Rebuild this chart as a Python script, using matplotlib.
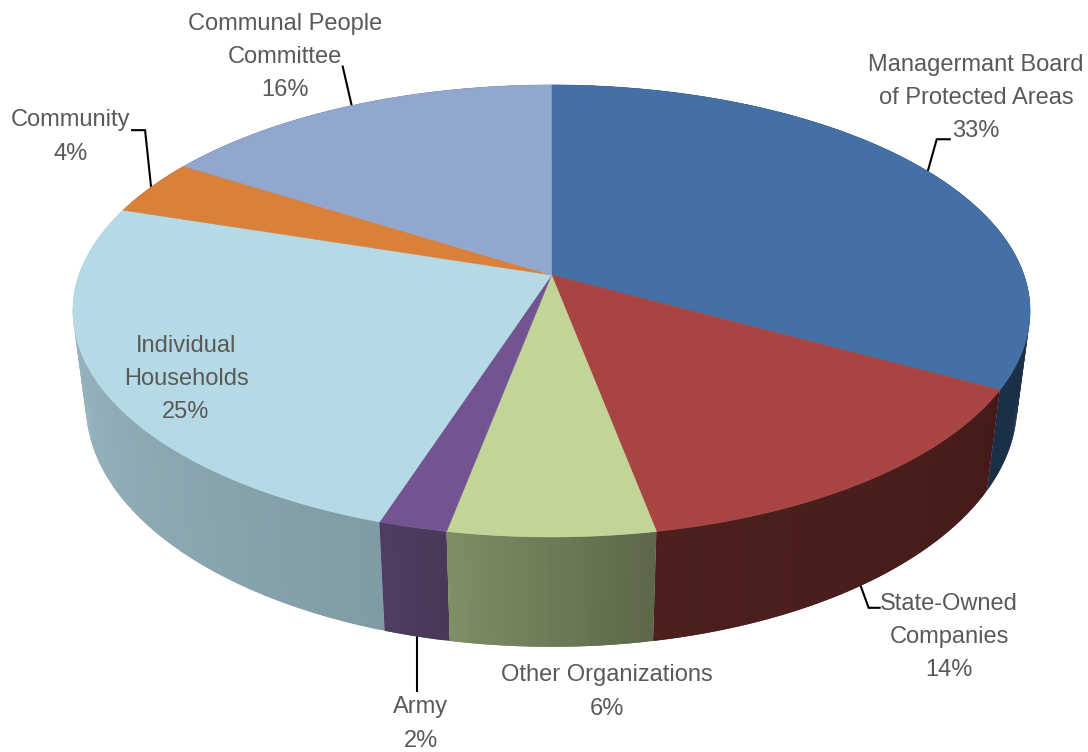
import numpy as np
import matplotlib
matplotlib.use("Agg")
import matplotlib.pyplot as plt
from matplotlib.collections import PolyCollection
from matplotlib.colors import to_rgb
from matplotlib.patches import Polygon

# 占比数据，从 12 点方向顺时针排列
labels = ['Managermant Board\nof Protected Areas', 'State-Owned\nCompanies', 'Other Organizations',
          'Army', 'Individual\nHouseholds', 'Community', 'Communal People\nCommittee']
shares = [33, 14, 6, 2, 25, 4, 16]

top_colors = ['#4470A5', '#A84442', '#C2D498', '#725590', '#B5DAE6', '#D9813A', '#92A7CE']
# 侧面渐变：弧段起点颜色、终点颜色
side_colors = [('#1B2F47', '#1B2F47'), ('#451B1A', '#4D201E'), ('#5C6849', '#7F8F66'),
               ('#4A3859', '#503D62'), ('#7F9CA5', '#A4C2CC'), ('#7A4A20', '#7A4A20'),
               ('#54607A', '#54607A')]

# 标签中心位置
label_pos = [(976, 98), (949, 637), (607, 692), (421, 724), (186, 379), (71, 137), (285, 57)]
# 引线折点，相对于饼边缘的偏移；None 表示无引线
leader_offsets = [[(9, -32), (22, -32)], [(8, 22), (19, 22)], None, [(0, 55)], None,
                  [(-6, -57), (-19, -57)], [(-9, -39)]]


def project(t, cx, cy, a, b, k):
    # 圆盘上角度 t（顺时针，0 为正上方）投影到图像像素，带透视
    x, y = np.sin(t), np.cos(t)
    w = 1 + k * y
    return np.column_stack((cx + a * x / w, cy - b * y / w))


def top_rim(t):
    return project(t, 551.5, 275, 472.5, 220.3, 0.159)


def bottom_rim(t):
    return project(t, 551.5, 367.5, 460, 236, 0.155)


fig = plt.figure(figsize=(10.88, 7.52), dpi=100)
ax = fig.add_axes([0, 0, 1, 1])
ax.set_xlim(0, 1088)
ax.set_ylim(752, 0)
ax.axis('off')

edges = np.cumsum([0] + shares) / sum(shares) * 2 * np.pi

# 先画侧面，细分成窄条做渐变，相邻窄条互相重叠以免出现接缝
strips = []
strip_colors = []
for i in range(len(shares)):
    t = np.linspace(edges[i], edges[i + 1], max(int(shares[i] * 6), 8))
    up = top_rim(t)
    low = bottom_rim(t)
    c0, c1 = np.array(to_rgb(side_colors[i][0])), np.array(to_rgb(side_colors[i][1]))
    for j in range(len(t) - 1):
        e = min(j + 2, len(t) - 1)
        strips.append([up[j], up[e], low[e], low[j]])
        f = j / max(len(t) - 2, 1)
        strip_colors.append(c0 + (c1 - c0) * f)

# 由后向前绘制
order = np.argsort([np.mean(s, axis=0)[1] for s in strips])
walls = PolyCollection([strips[n] for n in order], facecolors=[strip_colors[n] for n in order],
                       edgecolors='none', linewidths=0, zorder=1)
ax.add_collection(walls)

# 顶面
for i in range(len(shares)):
    t = np.linspace(edges[i], edges[i + 1], 200)
    pts = np.vstack(([[551.5, 275]], top_rim(t)))
    ax.add_patch(Polygon(pts, closed=True, facecolor=top_colors[i], edgecolor=top_colors[i],
                         linewidth=0.4, zorder=2))

# 标签和引线
plt.rcParams['font.family'] = ['Liberation Sans']
for i in range(len(shares)):
    ax.text(label_pos[i][0], label_pos[i][1], '%s\n%d%%' % (labels[i], shares[i]), ha='center', va='center',
            fontsize=17, color='#595959', linespacing=1.65, zorder=4)
    if leader_offsets[i] is None:
        continue
    mid = np.array([(edges[i] + edges[i + 1]) / 2])
    # 下半部分的引线从底边引出
    start = bottom_rim(mid)[0] if np.cos(mid[0]) < -0.5 else top_rim(mid)[0]
    xs = [start[0]] + [start[0] + dx for dx, dy in leader_offsets[i]]
    ys = [start[1]] + [start[1] + dy for dx, dy in leader_offsets[i]]
    ax.plot(xs, ys, color='black', linewidth=1.5, solid_joinstyle='miter', zorder=0)

fig.savefig('out.png', dpi=100, facecolor='white')
